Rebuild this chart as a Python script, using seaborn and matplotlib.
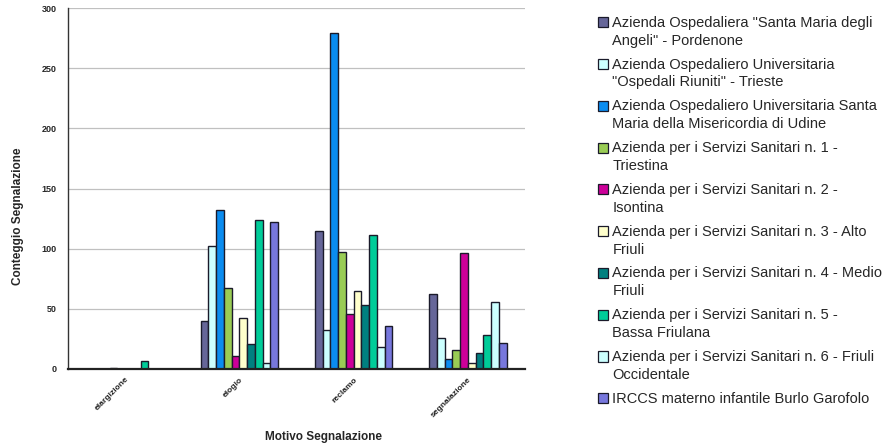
import matplotlib
matplotlib.use("Agg")
import matplotlib.pyplot as plt
from matplotlib.patches import Patch, Rectangle
from matplotlib.legend_handler import HandlerPatch
import pandas as pd
import seaborn as sns

# Motivi di segnalazione (asse x)
motivi = ["elargizione", "elogio", "reclamo", "segnalazione"]

# Strutture sanitarie (serie)
aziende = [
    'Azienda Ospedaliera "Santa Maria degli\nAngeli" - Pordenone',
    'Azienda Ospedaliero Universitaria\n"Ospedali Riuniti" - Trieste',
    'Azienda Ospedaliero Universitaria Santa\nMaria della Misericordia di Udine',
    'Azienda per i Servizi Sanitari n. 1 -\nTriestina',
    'Azienda per i Servizi Sanitari n. 2 -\nIsontina',
    'Azienda per i Servizi Sanitari n. 3 - Alto\nFriuli',
    'Azienda per i Servizi Sanitari n. 4 - Medio\nFriuli',
    'Azienda per i Servizi Sanitari n. 5 -\nBassa Friulana',
    'Azienda per i Servizi Sanitari n. 6 - Friuli\nOccidentale',
    'IRCCS materno infantile Burlo Garofolo',
]

# Conteggi per azienda, nell'ordine dei motivi
aopn = [0, 40, 115, 62]
aouts = [0, 102, 32, 26]
aoud = [0, 132, 279, 8]
ass1 = [1, 67, 97, 16]
ass2 = [0, 11, 46, 96]
ass3 = [0, 42, 65, 5]
ass4 = [0, 21, 53, 13]
ass5 = [7, 124, 111, 28]
ass6 = [0, 5, 18, 56]
burlo = [0, 122, 36, 22]

colori = ["#666699", "#CCFFFF", "#0A8CF0", "#99CC55", "#CC0099",
          "#FFFFCC", "#008080", "#00CC99", "#CCFFFF", "#7777DD"]

serie = [aopn, aouts, aoud, ass1, ass2, ass3, ass4, ass5, ass6, burlo]
righe = []
for nome, valori in zip(aziende, serie):
    for motivo, v in zip(motivi, valori):
        righe.append({"Motivo": motivo, "Azienda": nome, "Conteggio": v})
df = pd.DataFrame(righe)

sns.set_theme(style="white")
plt.rcParams["font.family"] = ["Liberation Sans", "DejaVu Sans"]

fig = plt.figure(figsize=(8.82, 4.45), dpi=100)
ax = fig.add_axes([68 / 882, 1 - 369 / 445, (525 - 68) / 882, (369 - 8) / 445])

sns.barplot(data=df, x="Motivo", y="Conteggio", hue="Azienda",
            order=motivi, hue_order=aziende, palette=colori, saturation=1,
            width=0.68, edgecolor="#1a1a2a", linewidth=1.0,
            legend=False, ax=ax)

ax.set_ylim(0, 300)
ax.set_xlim(-0.5, len(motivi) - 0.5)
ax.set_yticks(range(0, 301, 50))
ax.yaxis.grid(True, color="#c0c0c0", linewidth=0.9)
ax.set_axisbelow(True)
for s in ("top", "right"):
    ax.spines[s].set_visible(False)
ax.spines["left"].set_color("#333333")
ax.spines["left"].set_linewidth(1.0)
ax.spines["bottom"].set_color("#222222")
ax.spines["bottom"].set_linewidth(1.6)

ax.tick_params(axis="y", length=0, pad=8, labelsize=6.5)
ax.tick_params(axis="x", length=0, pad=5, labelsize=6)
for t in ax.get_yticklabels():
    t.set_fontweight("bold")
ax.set_xticks(range(len(motivi)))
ax.set_xticklabels(motivi, rotation=45, ha="right", rotation_mode="anchor",
                   fontweight="bold", color="#222222")

ax.set_xlabel("Motivo Segnalazione", fontsize=8.5, fontweight="bold")
ax.set_ylabel("Conteggio Segnalazione", fontsize=8.5, fontweight="bold")
ax.xaxis.set_label_coords(0.558, -0.172)
ax.yaxis.set_label_coords(-0.096, 0.424)

# Legenda: il quadratino si allinea alla prima riga dell'etichetta
FS = 10.5
LS = 1.35


def quadratino(righe_testo):
    shift = (righe_testo - 1) * FS * LS / 2.0

    def make(legend, orig_handle, xdescent, ydescent, width, height, fontsize):
        return Rectangle((-xdescent, -ydescent + shift), width, height)

    return HandlerPatch(patch_func=make)


handles = [Patch(facecolor=c, edgecolor="#1a1a2a", linewidth=0.9) for c in colori]
mappa = {h: quadratino(lbl.count("\n") + 1) for h, lbl in zip(handles, aziende)}
leg = fig.legend(handles, aziende, loc="upper left",
                 bbox_to_anchor=(592 / 882, 1 - 10 / 445), handler_map=mappa,
                 frameon=False, fontsize=FS, handlelength=0.7, handleheight=0.7,
                 handletextpad=0.3, labelspacing=0.68, borderaxespad=0)
for t in leg.get_texts():
    t.set_linespacing(LS)

fig.savefig("out.png", dpi=100)
